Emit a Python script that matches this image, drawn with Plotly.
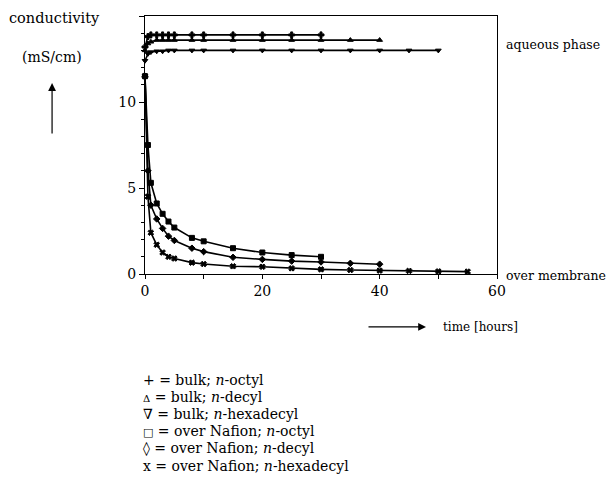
import plotly.graph_objects as go

# ---- data ----
t_bulk_octyl = [0, 0.5, 1, 2, 3, 4, 5, 8, 10, 15, 20, 25, 30]
v_bulk_octyl = [13.2, 13.8, 13.9, 13.9, 13.9, 13.9, 13.9, 13.9, 13.9, 13.9, 13.9, 13.9, 13.9]

t_bulk_decyl = [0, 0.5, 1, 2, 3, 4, 5, 8, 10, 15, 20, 25, 30, 35, 40]
v_bulk_decyl = [13.0, 13.4, 13.5, 13.6, 13.6, 13.6, 13.6, 13.6, 13.6, 13.6, 13.6, 13.6, 13.6, 13.6, 13.6]

t_bulk_hexa = [0, 0.5, 1, 2, 3, 4, 5, 8, 10, 15, 20, 25, 30, 35, 40, 45, 50]
v_bulk_hexa = [12.4, 12.8, 12.9, 12.95, 12.95, 13.0, 13.0, 13.0, 13.0, 13.0, 13.0, 13.0, 13.0, 13.0, 13.0, 13.0, 13.0]

t_naf_octyl = [0, 0.5, 1, 2, 3, 4, 5, 8, 10, 15, 20, 25, 30]
v_naf_octyl = [11.5, 7.5, 5.3, 4.1, 3.5, 3.05, 2.7, 2.1, 1.9, 1.5, 1.25, 1.1, 1.0]

t_naf_decyl = [0, 0.5, 1, 2, 3, 4, 5, 8, 10, 15, 20, 25, 30, 35, 40]
v_naf_decyl = [11.5, 6.0, 4.0, 3.2, 2.65, 2.2, 1.95, 1.5, 1.3, 0.97, 0.85, 0.75, 0.7, 0.62, 0.57]

t_naf_hexa = [0, 0.5, 1, 2, 3, 4, 5, 8, 10, 15, 20, 25, 30, 35, 40, 45, 50, 55]
v_naf_hexa = [11.5, 4.5, 2.4, 1.7, 1.25, 1.0, 0.9, 0.66, 0.58, 0.45, 0.42, 0.33, 0.27, 0.23, 0.2, 0.18, 0.15, 0.14]

x_tickvals = [0, 20, 40, 60]
y_tickvals = [0, 5, 10, 15]

legend_lines = [
    "+ = bulk; <i>n</i>-octyl",
    "<span style='font-size:10px'>Δ</span> = bulk; <i>n</i>-decyl",
    "∇ = bulk; <i>n</i>-hexadecyl",
    "<span style='font-size:11px'>□</span> = over Nafion; <i>n</i>-octyl",
    "◊ = over Nafion; <i>n</i>-decyl",
    "x = over Nafion; <i>n</i>-hexadecyl",
]

FONT = "DejaVu Serif, serif"

series = [
    (t_bulk_octyl, v_bulk_octyl, "cross", "bulk; n-octyl"),
    (t_bulk_decyl, v_bulk_decyl, "triangle-up", "bulk; n-decyl"),
    (t_bulk_hexa, v_bulk_hexa, "triangle-down", "bulk; n-hexadecyl"),
    (t_naf_octyl, v_naf_octyl, "square", "over Nafion; n-octyl"),
    (t_naf_decyl, v_naf_decyl, "diamond", "over Nafion; n-decyl"),
    (t_naf_hexa, v_naf_hexa, "x", "over Nafion; n-hexadecyl"),
]

fig = go.Figure()
for t, v, sym, name in series:
    fig.add_trace(go.Scatter(
        x=t, y=v, mode="lines+markers", name=name,
        line=dict(color="black", width=1.6),
        marker=dict(symbol=sym, size=5, color="black",
                    line=dict(color="black", width=1)),
        cliponaxis=False, showlegend=False,
    ))

# page body has an 8px margin, so the figure is placed at (8, 8)
fig.update_layout(
    width=606, height=472,
    margin=dict(l=137, r=117, t=8, b=206),
    paper_bgcolor="white", plot_bgcolor="white",
    font=dict(family=FONT, size=13, color="black"),
    showlegend=False,
)
fig.update_xaxes(
    range=[0, 60], tickvals=x_tickvals, showgrid=False, zeroline=False,
    showline=True, linecolor="black", linewidth=1.2, mirror=True,
    ticks="outside", ticklen=4, tickcolor="black",
    minor=dict(dtick=10, ticks="outside", ticklen=4, tickcolor="black"),
    tickfont=dict(family=FONT, size=14),
)
fig.update_yaxes(
    range=[0, 15], tickvals=y_tickvals, showgrid=False, zeroline=False,
    showline=True, linecolor="black", linewidth=1.2, mirror=True,
    ticks="outside", ticklen=5, tickcolor="black",
    minor=dict(dtick=1, ticks="outside", ticklen=3, tickcolor="black"),
    tickfont=dict(family=FONT, size=14),
)

ann = []
ann.append(dict(text="conductivity", x=-0.256, y=0.992, xref="paper", yref="paper",
                showarrow=False, xanchor="center", yanchor="middle", font=dict(size=14.5)))
ann.append(dict(text="(mS/cm)", x=-0.264, y=0.841, xref="paper", yref="paper",
                showarrow=False, xanchor="center", yanchor="middle", font=dict(size=14)))
ann.append(dict(text="", x=-0.264, y=0.74, xref="paper", yref="paper",
                showarrow=True, ax=0, ay=52, arrowhead=2, arrowsize=1.3,
                arrowwidth=1.2, arrowcolor="black"))
ann.append(dict(text="time [hours]", x=(441 - 145) / 352, y=-0.205, xref="paper", yref="paper",
                showarrow=False, xanchor="left", yanchor="middle", font=dict(size=12)))
ann.append(dict(text="", x=(426 - 145) / 352, y=-0.205, xref="paper", yref="paper",
                showarrow=True, ax=-59, ay=0, arrowhead=2, arrowsize=1.3,
                arrowwidth=1.2, arrowcolor="black"))
ann.append(dict(text="aqueous phase", x=(504 - 145) / 352, y=(274 - 45) / 258,
                xref="paper", yref="paper", showarrow=False, xanchor="left",
                yanchor="middle", font=dict(size=12.5)))
ann.append(dict(text="over membrane", x=(504 - 145) / 352, y=(274 - 275) / 258,
                xref="paper", yref="paper", showarrow=False, xanchor="left",
                yanchor="middle", font=dict(size=12.5)))

y0 = 380
for i, line in enumerate(legend_lines):
    ypix = y0 + i * 17.1
    ann.append(dict(text=line, x=(141 - 145) / 352, y=(274 - ypix) / 258,
                    xref="paper", yref="paper", showarrow=False, xanchor="left",
                    yanchor="middle", font=dict(size=14)))

fig.update_layout(annotations=ann)
fig.write_html("out.html")
